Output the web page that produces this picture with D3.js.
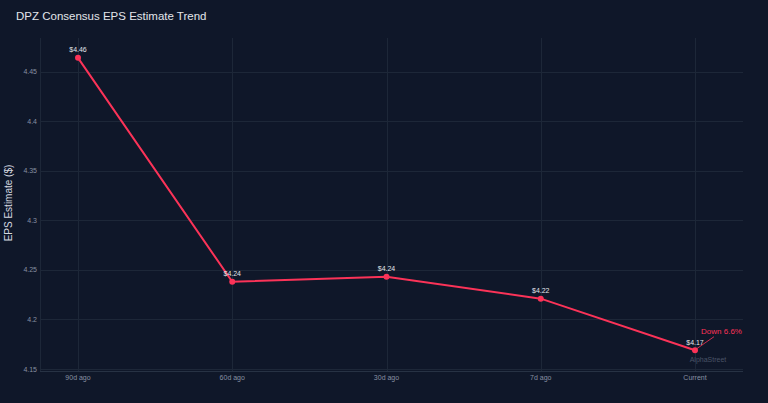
<!DOCTYPE html>
<meta charset="utf-8">
<script src="https://cdn.jsdelivr.net/npm/d3@7"></script>
<style>
	body{margin:0;background:#0f1729;font-family:"Liberation Sans",Arial,sans-serif;}
	svg{display:block;}
</style>
<div id="chart"></div>
<script>
// chart data
var periods = ["90d ago","60d ago","30d ago","7d ago","Current"]
var epsValues = [4.464, 4.238, 4.243, 4.221, 4.169]
var yTicks = [4.15, 4.2, 4.25, 4.3, 4.35, 4.4, 4.45]
var titleText = "DPZ Consensus EPS Estimate Trend"
var yTitle = "EPS Estimate ($)"
var changeText = "Down 6.6%"

var width = 768
var height = 403
var plot = {left:40, right:743, top:38, bottom:371}

var svg = d3.select("#chart").append("svg")
	.attr("width",width)
	.attr("height",height)

svg.append("rect").attr("width",width).attr("height",height).attr("fill","#0f1729")

var x = d3.scalePoint().domain(periods).range([78,695])
var y = d3.scaleLinear().domain([4.148,4.484]).range([plot.bottom,plot.top])

// grid
var grid = svg.append("g").attr("stroke","#1d2738").attr("stroke-width",1)
grid.selectAll(".hg").data(yTicks).enter().append("line")
	.attr("x1",plot.left).attr("x2",plot.right)
	.attr("y1",function(d){return Math.round(y(d))+0.5})
	.attr("y2",function(d){return Math.round(y(d))+0.5})
grid.selectAll(".vg").data(periods).enter().append("line")
	.attr("y1",plot.top).attr("y2",plot.bottom)
	.attr("x1",function(d){return Math.round(x(d))+0.5})
	.attr("x2",function(d){return Math.round(x(d))+0.5})
grid.append("line").attr("x1",plot.left+0.5).attr("x2",plot.left+0.5).attr("y1",plot.top).attr("y2",plot.bottom)
grid.append("line").attr("x1",plot.left).attr("x2",plot.right).attr("y1",plot.bottom+0.5).attr("y2",plot.bottom+0.5).attr("stroke","#273244")

// y tick labels
svg.append("g").selectAll("text").data(yTicks).enter().append("text")
	.attr("x",37)
	.attr("y",function(d){return y(d)+2.5})
	.attr("text-anchor","end")
	.attr("font-size","7px")
	.attr("fill","#8790a2")
	.text(function(d){return String(d)})

// x tick labels
svg.append("g").selectAll("text").data(periods).enter().append("text")
	.attr("x",function(d){return x(d)})
	.attr("y",380)
	.attr("text-anchor","middle")
	.attr("font-size","7px")
	.attr("fill","#8790a2")
	.text(function(d){return d})

// titles
svg.append("text").attr("x",16).attr("y",19.5)
	.attr("font-size","11.5px").attr("fill","#e2e5ea")
	.text(titleText)
svg.append("text")
	.attr("transform","translate(12,203) rotate(-90)")
	.attr("text-anchor","middle")
	.attr("font-size","10px").attr("fill","#d5d9e0")
	.text(yTitle)

var data = periods.map(function(p,i){return {period:p, value:epsValues[i]}})
var red = "#fb3358"

// watermark
svg.append("text").attr("x",708).attr("y",361.5)
	.attr("text-anchor","middle").attr("font-size","7px").attr("fill","#4a5366")
	.text("AlphaStreet")

svg.append("path").datum(data)
	.attr("fill","none").attr("stroke",red).attr("stroke-width",2)
	.attr("d",d3.line().x(function(d){return x(d.period)}).y(function(d){return y(d.value)}))

svg.append("g").selectAll("circle").data(data).enter().append("circle")
	.attr("cx",function(d){return x(d.period)})
	.attr("cy",function(d){return y(d.value)})
	.attr("r",3)
	.attr("fill",red)

svg.append("g").selectAll("text").data(data).enter().append("text")
	.attr("x",function(d){return x(d.period)})
	.attr("y",function(d){return y(d.value)-5.5})
	.attr("text-anchor","middle")
	.attr("font-size","7px")
	.attr("fill","#e2e5ea")
	.text(function(d){return "$"+d.value.toFixed(2)})

// change annotation
var last = data[data.length-1]
svg.append("line")
	.attr("x1",x(last.period)+1).attr("y1",y(last.value)-1)
	.attr("x2",x(last.period)+19).attr("y2",y(last.value)-13.5)
	.attr("stroke",red).attr("stroke-width",0.8)
svg.append("text")
	.attr("x",x(last.period)+26.5).attr("y",y(last.value)-16)
	.attr("text-anchor","middle").attr("font-size","8px").attr("fill",red)
	.text(changeText)
</script>
